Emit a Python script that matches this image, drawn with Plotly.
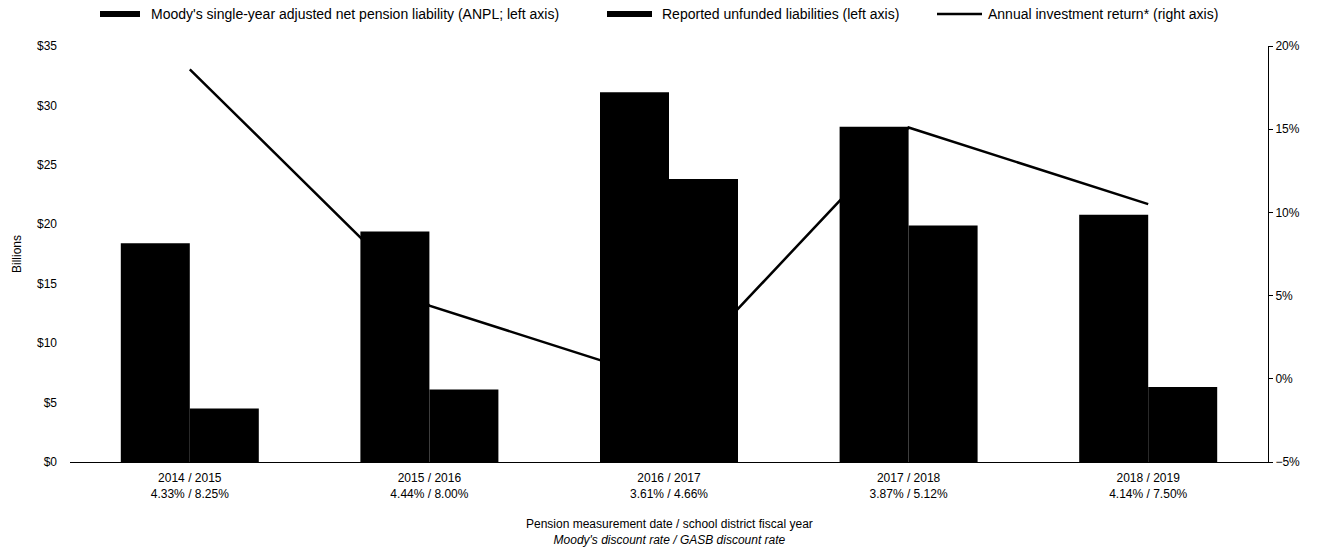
import plotly.graph_objects as go

# Pension measurement date / fiscal year, with discount rates underneath
periods = ["2014 / 2015", "2015 / 2016", "2016 / 2017", "2017 / 2018", "2018 / 2019"]
discount_rates = ["4.33% / 8.25%", "4.44% / 8.00%", "3.61% / 4.66%", "3.87% / 5.12%", "4.14% / 7.50%"]

# Liabilities in $ billions (left axis)
anpl = [18.4, 19.4, 31.1, 28.2, 20.8]
reported_unfunded = [4.5, 6.1, 23.8, 19.9, 6.3]

# Annual investment return in % (right axis)
investment_return = [18.6, 4.4, -0.2, 15.1, 10.5]

# Legend labels and stroke widths
legend_labels = [
    "Moody's single-year adjusted net pension liability (ANPL; left axis)",
    "Reported unfunded liabilities (left axis)",
    "Annual investment return* (right axis)",
]
legend_widths = [6, 6, 2.5]

categories = [f"{p}<br>{r}" for p, r in zip(periods, discount_rates)]

FONT = "Liberation Sans, Arial, sans-serif"
INK = "#000000"

W, H = 1317, 549
ML, MR, MT, MB = 70, 49, 46, 87
PW, PH = W - ML - MR, H - MT - MB


def px_x(px):
    return (px - ML) / PW


def px_y(py):
    return (H - MB - py) / PH


fig = go.Figure()

fig.add_trace(go.Scatter(
    x=categories, y=investment_return, yaxis="y2", mode="lines",
    line=dict(color=INK, width=2.5), showlegend=False, cliponaxis=False,
))
fig.add_trace(go.Bar(
    x=categories, y=anpl, marker=dict(color=INK, line=dict(width=0)),
    showlegend=False,
))
fig.add_trace(go.Bar(
    x=categories, y=reported_unfunded, marker=dict(color=INK, line=dict(width=0)),
    showlegend=False,
))

# Hand-placed legend row across the top
legend_symbol_px = [(100, 140), (607, 652), (937, 982)]
legend_text_px = [149, 660, 986]
shapes = []
annotations = []
ly = px_y(14)
for (x0, x1), tx, label, w in zip(legend_symbol_px, legend_text_px, legend_labels, legend_widths):
    shapes.append(dict(
        type="line", xref="paper", yref="paper",
        x0=px_x(x0), x1=px_x(x1), y0=ly, y1=ly,
        line=dict(color=INK, width=w),
    ))
    annotations.append(dict(
        xref="paper", yref="paper", x=px_x(tx), y=ly,
        xanchor="left", yanchor="middle", showarrow=False,
        text=label, font=dict(family=FONT, size=14, color=INK),
    ))

# X-axis title (two lines, second in italics)
annotations.append(dict(
    xref="paper", yref="paper", x=0.5, y=px_y(515),
    xanchor="center", yanchor="top", showarrow=False,
    text="Pension measurement date / school district fiscal year<br>"
         "<i>Moody's discount rate / GASB discount rate</i>",
    font=dict(family=FONT, size=12, color=INK),
))

fig.update_layout(
    width=W, height=H,
    margin=dict(l=ML, r=MR, t=MT, b=MB, autoexpand=False),
    paper_bgcolor="white", plot_bgcolor="white",
    font=dict(family=FONT, size=12, color=INK),
    barmode="group", bargap=0.424, bargroupgap=0,
    showlegend=False,
    shapes=shapes,
    annotations=annotations,
    xaxis=dict(
        showline=True, linecolor=INK, linewidth=1,
        ticks="", showgrid=False, automargin=False,
        tickfont=dict(size=12), ticklabelstandoff=5,
    ),
    yaxis=dict(
        range=[0, 35], dtick=5, tickprefix="$",
        showline=False, showgrid=False, zeroline=False, ticks="",
        ticklabelstandoff=12, automargin=False,
        title=dict(text="Billions", font=dict(size=12), standoff=12),
        tickfont=dict(size=12),
    ),
    yaxis2=dict(
        range=[-5, 20], dtick=5, ticksuffix="%",
        overlaying="y", side="right",
        showline=True, linecolor=INK, linewidth=1,
        ticks="outside", ticklen=4, tickcolor=INK,
        showgrid=False, zeroline=False, automargin=False,
        tickfont=dict(size=12),
    ),
)

fig.write_html("out.html")
